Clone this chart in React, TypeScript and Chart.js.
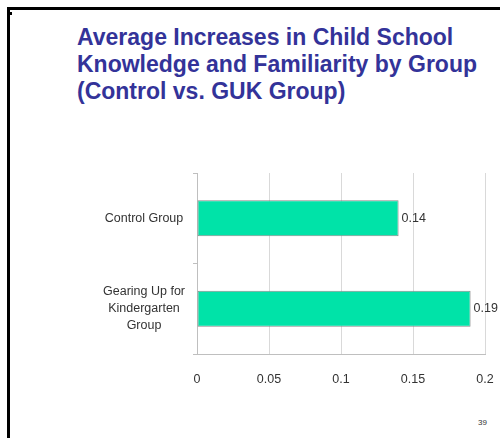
import React, { useEffect, useRef } from "react";
import { Chart, registerables } from "chart.js";

Chart.register(...registerables);

const categories: (string | string[])[] = [
  "Control Group",
  ["Gearing Up for", "Kindergarten", "Group"],
];
const increases = [0.14, 0.19];
const xTicks = [0, 0.05, 0.1, 0.15, 0.2];

const titleLines = [
  "Average Increases in Child School",
  "Knowledge and Familiarity by Group",
  "(Control vs. GUK Group)",
];
const pageNumber = "39";

const FONT = "'Liberation Sans', Arial, sans-serif";

const valueLabels = {
  id: "valueLabels",
  afterDatasetsDraw(chart: Chart) {
    const { ctx } = chart;
    const meta = chart.getDatasetMeta(0);
    const data = chart.data.datasets[0].data as number[];
    ctx.save();
    ctx.font = `12.5px ${FONT}`;
    ctx.fillStyle = "#333333";
    ctx.textAlign = "left";
    ctx.textBaseline = "middle";
    meta.data.forEach((bar: any, i: number) => {
      ctx.fillText(String(data[i]), bar.x + 3, bar.y);
    });
    ctx.restore();
  },
};

// keep label overhang from shrinking the plot area
function noLabelPadding(scale: any) {
  scale.paddingLeft = 0;
  scale.paddingRight = 0;
  scale.paddingTop = 0;
  scale.paddingBottom = 0;
}

function BarChart() {
  const ref = useRef<HTMLCanvasElement | null>(null);

  useEffect(() => {
    if (!ref.current) return;
    const chart = new Chart(ref.current, {
      type: "bar",
      data: {
        labels: categories,
        datasets: [
          {
            data: increases,
            backgroundColor: "#00E3A8",
            borderColor: "#8a8a8a",
            borderWidth: 1,
            borderSkipped: false,
            categoryPercentage: 0.8,
            barPercentage: 0.5,
          },
        ],
      },
      options: {
        indexAxis: "y",
        animation: false,
        responsive: false,
        maintainAspectRatio: false,
        layout: { padding: { top: 13, right: 15, left: 0, bottom: 0 } },
        plugins: {
          legend: { display: false },
          tooltip: { enabled: false },
          title: { display: false },
        },
        scales: {
          x: {
            min: 0,
            max: 0.2,
            afterBuildTicks(scale: any) {
              scale.ticks = xTicks.map((v) => ({ value: v }));
            },
            afterFit(scale: any) {
              scale.height = 46;
              noLabelPadding(scale);
            },
            ticks: {
              color: "#333333",
              font: { family: FONT, size: 12.5 },
              padding: 18,
              maxRotation: 0,
              callback: (v: any) => String(v),
            },
            grid: {
              color: "#d9d9d9",
              lineWidth: 1,
              drawTicks: false,
            },
            border: { color: "#bfbfbf", width: 1 },
          },
          y: {
            afterFit(scale: any) {
              scale.width = 197;
              noLabelPadding(scale);
            },
            ticks: {
              color: "#333333",
              crossAlign: "center",
              padding: 8,
              font: { family: FONT, size: 12.5, lineHeight: 1.36 },
            },
            grid: {
              drawOnChartArea: false,
              drawTicks: true,
              tickLength: 4,
              color: "#bfbfbf",
            },
            border: { color: "#bfbfbf", width: 1 },
          },
        },
      },
      plugins: [valueLabels],
    });
    return () => chart.destroy();
  }, []);

  return (
    <canvas
      ref={ref}
      width={500}
      height={240}
      style={{ position: "fixed", left: 0, top: 160, width: 500, height: 240 }}
    />
  );
}

export default function App() {
  return (
    <div
      style={{
        position: "fixed",
        left: 0,
        top: 0,
        width: 500,
        height: 438,
        background: "#ffffff",
        overflow: "hidden",
      }}
    >
      <div style={{ position: "absolute", left: 7, top: 7, width: 493, height: 3, background: "#000" }} />
      <div style={{ position: "absolute", left: 7, top: 7, width: 3, height: 431, background: "#000" }} />
      <div style={{ position: "absolute", left: 10, top: 12, width: 2, height: 3, background: "#000" }} />
      <div
        style={{
          position: "absolute",
          left: 77,
          top: 24,
          fontFamily: FONT,
          fontWeight: "bold",
          fontSize: 23,
          lineHeight: "27px",
          color: "#333399",
          whiteSpace: "nowrap",
        }}
      >
        {titleLines.map((t, i) => (
          <div key={i}>{t}</div>
        ))}
      </div>
      <BarChart />
      <div
        style={{
          position: "absolute",
          left: 478,
          top: 418,
          fontFamily: FONT,
          fontSize: 8,
          color: "#333333",
        }}
      >
        {pageNumber}
      </div>
    </div>
  );
}
